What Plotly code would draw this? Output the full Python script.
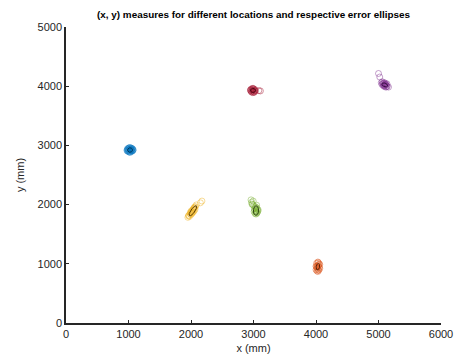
import numpy as np
import plotly.graph_objects as go

# Measured (x, y) points per location (mm)
blue_x = [975, 1000, 1025, 1050, 1075, 985, 1010, 1040, 1065, 995, 1020, 1045, 1060, 990, 1030,
          1055, 1005, 1035, 1015, 1070, 980, 1025, 1048, 1002, 1038]
blue_y = [2920, 2895, 2880, 2900, 2925, 2945, 2960, 2955, 2940, 2910, 2930, 2915, 2905, 2935, 2900,
          2950, 2925, 2940, 2890, 2915, 2905, 2965, 2930, 2950, 2922]

orange_x = [4000, 4015, 4030, 4045, 4060, 4005, 4020, 4040, 4055, 4010, 4035, 4050, 4025, 4045,
            4015, 4030, 4000, 4060, 4038, 4022]
orange_y = [900, 880, 870, 890, 920, 950, 970, 960, 940, 1010, 1020, 1000, 930, 980,
            920, 1030, 960, 990, 900, 950]

yellow_x = [1950, 1965, 1985, 1995, 2010, 2025, 2040, 2055, 2070, 2085, 1975, 2000, 2015, 2035,
            2050, 2065, 1960, 1990, 2030, 2045, 2020, 2005, 2060, 2150, 2175]
yellow_y = [1785, 1820, 1840, 1860, 1880, 1900, 1925, 1945, 1965, 1995, 1800, 1830, 1850, 1875,
            1895, 1920, 1810, 1870, 1910, 1940, 1865, 1895, 1960, 2030, 2060]

purple_x = [5045, 5060, 5080, 5100, 5120, 5140, 5160, 5055, 5075, 5095, 5115, 5135, 5070, 5090,
            5110, 5130, 5085, 5105, 5098, 5118, 5000, 5020]
purple_y = [4060, 4075, 4050, 4035, 4015, 4000, 3985, 4030, 4010, 3995, 3985, 4040, 4045, 4060,
            4050, 3990, 4020, 4025, 4010, 4030, 4215, 4155]

green_x = [3010, 3025, 3040, 3055, 3070, 3015, 3035, 3050, 3065, 3020, 3045, 3060, 3030, 3050,
           3040, 3075, 2985, 2970, 2960, 2995, 2975, 3005]
green_y = [1880, 1850, 1840, 1855, 1890, 1930, 1950, 1945, 1920, 1900, 1890, 1870, 1965, 1990,
           1870, 1910, 2000, 2040, 2080, 2060, 2010, 1980]

red_x = [2955, 2970, 2990, 3010, 3025, 2960, 2980, 3000, 3020, 2965, 2995, 3015, 2975, 3005,
         2985, 3030, 2950, 2992, 3085, 3110]
red_y = [3925, 3900, 3890, 3895, 3915, 3950, 3960, 3955, 3945, 3910, 3935, 3925, 3940, 3905,
         3920, 3930, 3935, 3965, 3925, 3920]

# Error ellipses: center x, center y, semi-major, semi-minor, angle (deg)
ell_blue = (1025, 2922, 40, 38, 0)
ell_orange = (4030, 950, 55, 28, 80)
ell_yellow = (2030, 1895, 100, 32, 57)
ell_purple = (5100, 4022, 48, 30, -25)
ell_green = (3040, 1900, 80, 42, 88)
ell_red = (2992, 3928, 40, 35, 0)

series = [
    (blue_x, blue_y, ell_blue, "#0072BD", "#00365a"),
    (orange_x, orange_y, ell_orange, "#D95319", "#5a2008"),
    (yellow_x, yellow_y, ell_yellow, "#EDB120", "#5a4008"),
    (purple_x, purple_y, ell_purple, "#7E2F8E", "#3a0f44"),
    (green_x, green_y, ell_green, "#77AC30", "#2c4510"),
    (red_x, red_y, ell_red, "#A2142F", "#4a0512"),
]

fig = go.Figure()
for xs, ys, ell, col, dcol in series:
    fig.add_trace(go.Scatter(
        x=xs, y=ys, mode="markers",
        marker=dict(symbol="circle-open", size=6, color=col, opacity=0.45,
                    line=dict(width=1)),
        showlegend=False, hoverinfo="skip"))
    cx, cy, a, b, ang = ell
    t = np.linspace(0, 2 * np.pi, 80)
    th = np.deg2rad(ang)
    ex = cx + a * np.cos(t) * np.cos(th) - b * np.sin(t) * np.sin(th)
    ey = cy + a * np.cos(t) * np.sin(th) + b * np.sin(t) * np.cos(th)
    fig.add_trace(go.Scatter(x=ex, y=ey, mode="lines",
                             line=dict(color=dcol, width=1),
                             showlegend=False, hoverinfo="skip"))

axis_common = dict(
    showline=True, linecolor="#262626", linewidth=1.5,
    ticks="inside", ticklen=3, tickcolor="#262626", tickwidth=1,
    showgrid=False, zeroline=False, dtick=1000, automargin=False,
    tickfont=dict(family="Liberation Sans, Arial", size=11, color="#262626"),
    title_font=dict(family="Liberation Sans, Arial", size=11, color="#262626"),
)
fig.update_xaxes(range=[0, 6000], title_text="x (mm)", title_standoff=5, **axis_common)
fig.update_yaxes(range=[0, 5000], title_text="y (mm)", title_standoff=11, **axis_common)

fig.update_layout(
    width=458, height=361,
    margin=dict(l=66, r=17, t=27, b=38),
    plot_bgcolor="white", paper_bgcolor="white",
    title=dict(text="<b>(x, y) measures for different locations and respective error ellipses</b>",
               x=0.5, xref="paper", y=0.96, yref="container", yanchor="middle",
               font=dict(family="Liberation Sans, Arial", size=9.9, color="#000000")),
)

fig.write_html("out.html")
